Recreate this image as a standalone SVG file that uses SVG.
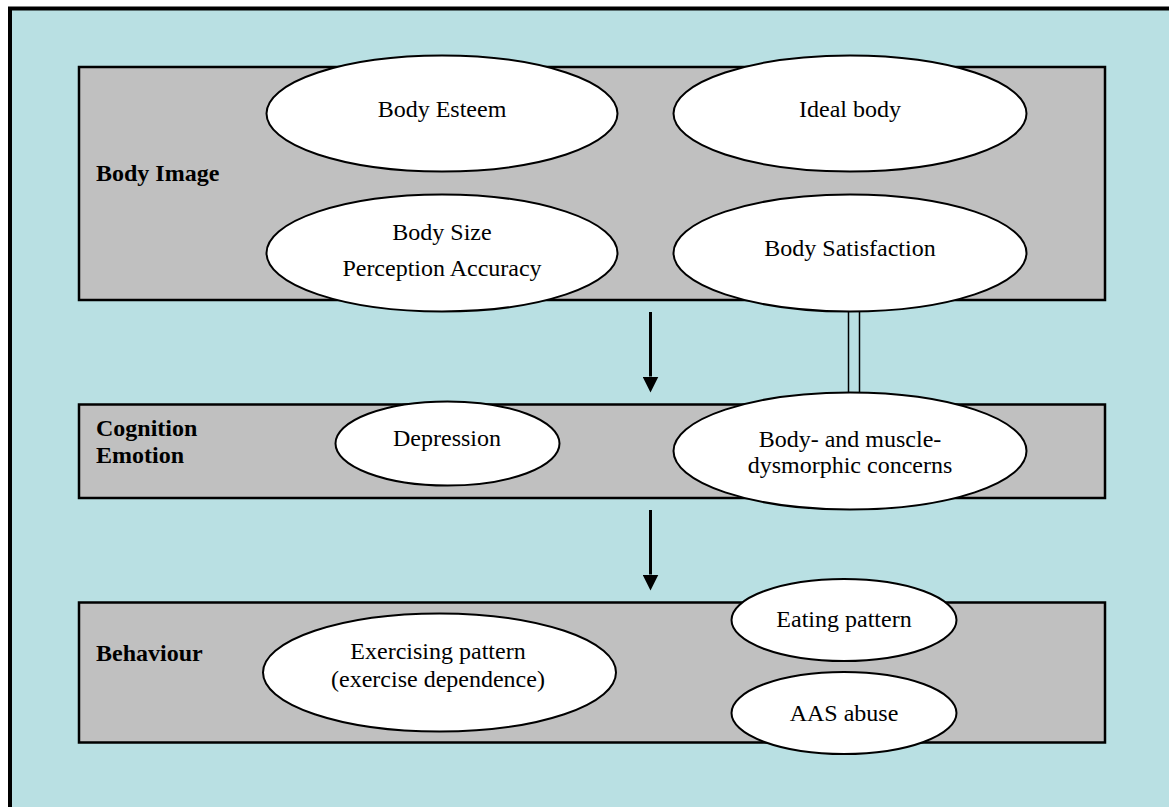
<svg xmlns="http://www.w3.org/2000/svg" width="1169" height="807" viewBox="0 0 1169 807">
<style>
.frame{fill:#b9e0e3;stroke:#000;stroke-width:4}
.panel{fill:#c0c0c0;stroke:#000;stroke-width:2.5}
.node{fill:#fff;stroke:#000;stroke-width:2}
.t{font-family:"Liberation Serif","Times New Roman",serif;font-size:24px;fill:#000;text-anchor:middle}
.lbl{font-family:"Liberation Serif","Times New Roman",serif;font-size:24px;font-weight:bold;fill:#000}
.arrow{stroke:#000;stroke-width:3;fill:none}
.dbl{stroke:#000;stroke-width:1.5;fill:none}
</style>
<defs>
<marker id="ah" markerUnits="userSpaceOnUse" markerWidth="16" markerHeight="16" viewBox="0 0 16 16" refX="0" refY="8" orient="auto">
<path d="M0,0 L16,8 L0,16 z" fill="#000"/>
</marker>
</defs>
<rect class="frame" x="10" y="8.5" width="1175" height="815"/>

<g id="panel-body-image">
<rect class="panel" x="79" y="67" width="1026" height="233"/>
<text class="lbl" x="96" y="181">Body Image</text>
</g>
<g id="panel-cognition">
<rect class="panel" x="79" y="404.5" width="1026" height="93.5"/>
<text class="lbl" x="96" y="436">Cognition</text>
<text class="lbl" x="96" y="463">Emotion</text>
</g>
<g id="panel-behaviour">
<rect class="panel" x="79" y="602.5" width="1026" height="140"/>
<text class="lbl" x="96" y="661">Behaviour</text>
</g>

<g id="connectors">
<line class="arrow" x1="650.5" y1="312" x2="650.5" y2="376.5" marker-end="url(#ah)"/>
<line class="arrow" x1="650.5" y1="510" x2="650.5" y2="574.5" marker-end="url(#ah)"/>
<line class="dbl" x1="848.5" y1="311" x2="848.5" y2="393"/>
<line class="dbl" x1="859.5" y1="311" x2="859.5" y2="393"/>
</g>

<g id="node-body-esteem">
<ellipse class="node" cx="442" cy="113.5" rx="175.5" ry="58"/>
<text class="t" x="442" y="117">Body Esteem</text>
</g>
<g id="node-ideal-body">
<ellipse class="node" cx="850" cy="113.5" rx="176.5" ry="58"/>
<text class="t" x="850" y="117">Ideal body</text>
</g>
<g id="node-body-size">
<ellipse class="node" cx="442" cy="253" rx="175.5" ry="58.5"/>
<text class="t" x="442" y="240">Body Size</text>
<text class="t" x="442" y="276">Perception Accuracy</text>
</g>
<g id="node-body-satisfaction">
<ellipse class="node" cx="850" cy="253" rx="176.5" ry="58.5"/>
<text class="t" x="850" y="256">Body Satisfaction</text>
</g>
<g id="node-depression">
<ellipse class="node" cx="447.5" cy="443.5" rx="112" ry="42"/>
<text class="t" x="447" y="445.5">Depression</text>
</g>
<g id="node-dysmorphic">
<ellipse class="node" cx="850" cy="451" rx="176.5" ry="58.5"/>
<text class="t" x="850" y="446.5">Body- and muscle-</text>
<text class="t" x="850" y="473">dysmorphic concerns</text>
</g>
<g id="node-exercising">
<ellipse class="node" cx="439.5" cy="672.5" rx="176.5" ry="59"/>
<text class="t" x="438" y="659">Exercising pattern</text>
<text class="t" x="438" y="687">(exercise dependence)</text>
</g>
<g id="node-eating">
<ellipse class="node" cx="844" cy="620" rx="112.5" ry="41"/>
<text class="t" x="844" y="627">Eating pattern</text>
</g>
<g id="node-aas">
<ellipse class="node" cx="844" cy="713" rx="112.5" ry="41"/>
<text class="t" x="844" y="721">AAS abuse</text>
</g>
</svg>
